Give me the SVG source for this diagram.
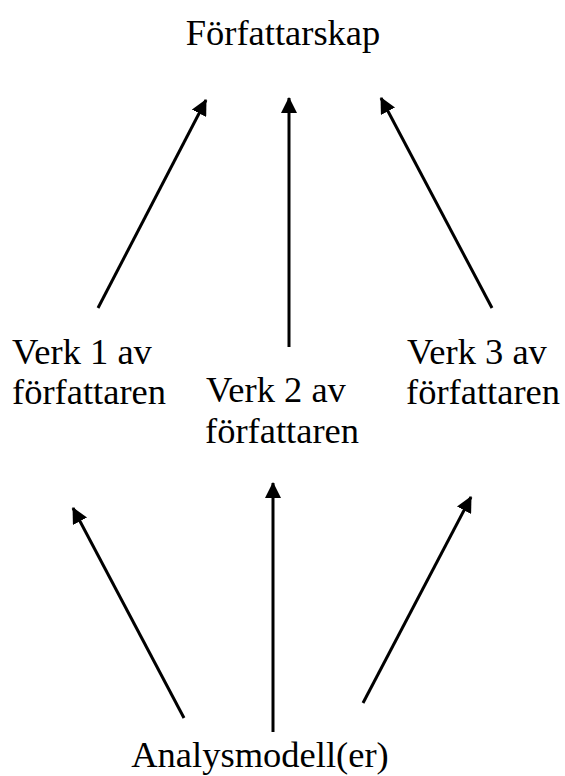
<svg xmlns="http://www.w3.org/2000/svg" width="565" height="776" viewBox="0 0 565 776">
  <style>
    .lbl { font-family: "Liberation Serif", "Times New Roman", serif; font-size: 36.5px; fill: #000; }
    .arrow { stroke: #000; stroke-width: 3; fill: none; marker-end: url(#head); }
  </style>
  <defs>
    <marker id="head" markerUnits="userSpaceOnUse" markerWidth="16" markerHeight="16" viewBox="0 0 16 16" refX="15" refY="8" orient="auto">
      <path d="M0,0 L16,8 L0,16 z" fill="#000"/>
    </marker>
  </defs>
  <rect width="565" height="776" fill="#fff"/>

  <g id="connectors">
    <line class="arrow" x1="98" y1="308" x2="206" y2="100"/>
    <line class="arrow" x1="289" y1="347" x2="289" y2="98"/>
    <line class="arrow" x1="492" y1="308" x2="381" y2="98"/>
    <line class="arrow" x1="184" y1="718" x2="73" y2="508"/>
    <line class="arrow" x1="273" y1="732" x2="273" y2="483"/>
    <line class="arrow" x1="363" y1="703" x2="471" y2="497"/>
  </g>

  <g id="forfattarskap">
    <text class="lbl" x="283" y="45" text-anchor="middle">Författarskap</text>
  </g>
  <g id="verk1">
    <text class="lbl" x="12" y="364">Verk 1 av</text>
    <text class="lbl" x="12" y="404">författaren</text>
  </g>
  <g id="verk2">
    <text class="lbl" x="206" y="402">Verk 2 av</text>
    <text class="lbl" x="205" y="443">författaren</text>
  </g>
  <g id="verk3">
    <text class="lbl" x="407" y="364">Verk 3 av</text>
    <text class="lbl" x="406" y="404">författaren</text>
  </g>
  <g id="analysmodell">
    <text class="lbl" x="260" y="767" text-anchor="middle">Analysmodell(er)</text>
  </g>
</svg>
